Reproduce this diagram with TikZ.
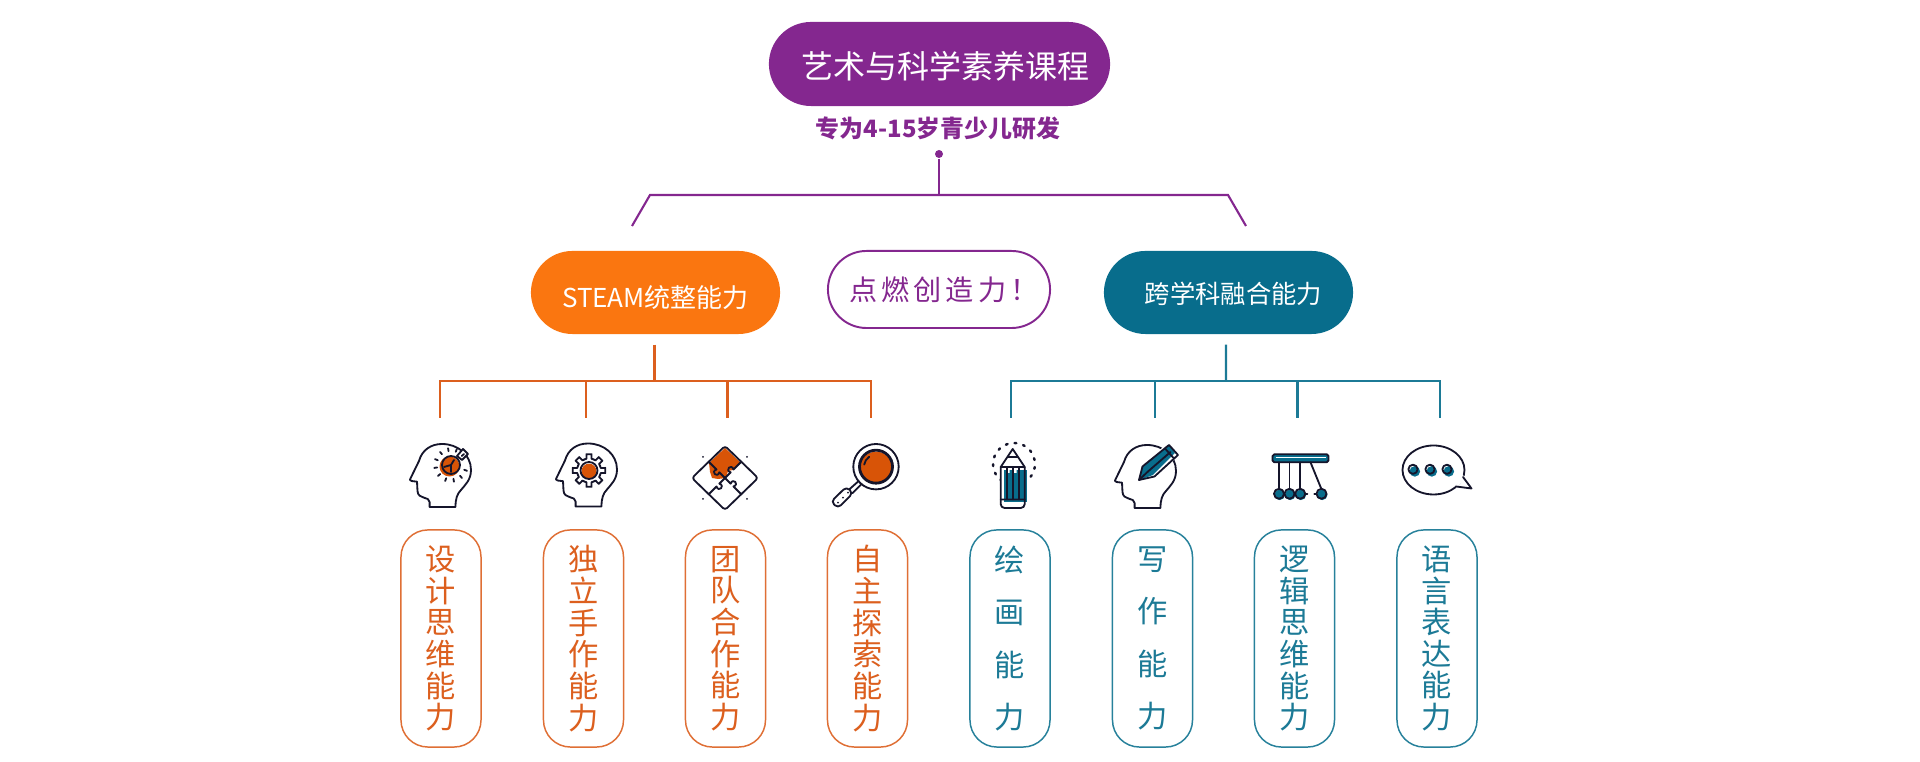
\documentclass[tikz,border=0pt]{standalone}
\usepackage{fontspec}
\usepackage{xcolor}
\usepackage{tikz}
\usetikzlibrary{positioning,calc}
\newfontfamily\cjk{Noto Sans CJK SC}
\newfontfamily\cjkwide[LetterSpace=14]{Noto Sans CJK SC}
\definecolor{ArtPurple}{HTML}{84278F}
\definecolor{ArtOrange}{HTML}{FA7610}
\definecolor{ArtTeal}{HTML}{086D8C}
\definecolor{ArtRust}{HTML}{DC5F1E}
\definecolor{ArtSea}{HTML}{1C7A96}
\definecolor{ArtInk}{HTML}{15152B}
\definecolor{ArtFlame}{HTML}{D85407}
\newcommand{\drawhead}{\draw[iconline,fill=white] (45.5,63) -- (19.6,63) -- (19.6,58) .. controls (19.6,52) and (8,56) .. (7.5,47) -- (7,37.7) -- (1.5,37) .. controls (-0.5,36) .. (0.7,34) -- (9,17) .. controls (12,6) and (21,0) .. (32,0) .. controls (48,0) and (61,11) .. (61,26) .. controls (61,36) and (55,41) .. (51,46) .. controls (47,50) and (45.5,55) .. (45.5,63);}
\tikzset{
  pillbox/.style={rounded corners=0.415cm, inner sep=0pt, minimum height=0.83cm, text=white},
  cardbox/.style={draw, line width=0.42pt, rounded corners=0.27cm, fill=white, inner sep=0pt, minimum width=0.8cm, minimum height=2.17cm, align=center},
  rustcard/.style={cardbox, draw=ArtRust!90, text=ArtRust, font=\cjk\fontsize{8.6}{9}\selectfont},
  seacard/.style={cardbox, draw=ArtSea!95, text=ArtSea, font=\cjk\fontsize{8.6}{9}\selectfont},
  seawide/.style={seacard, font=\cjk\fontsize{8.6}{14.85}\selectfont},
  purpleline/.style={draw=ArtPurple, line width=0.6pt},
  rustline/.style={draw=ArtRust, line width=0.6pt},
  sealine/.style={draw=ArtSea, line width=0.6pt},
  iconline/.style={draw=ArtInk, line width=0.52pt, line join=round, line cap=round},
  pics/bulbhead/.style={code={
    \drawhead
    \fill[ArtFlame] (39.5,22.5) circle[radius=10];
    \draw[iconline] (41,21) circle[radius=9];
    \draw[iconline,fill=white] (47,12) -- (53,5) -- (58,10) -- (52,16) -- cycle;
    \draw[iconline] (34,23) -- (41,21) -- (44,16) (41,21) -- (41,28);
    \foreach \a in {20,50,...,340} {\draw[iconline] ($(41,21)+(\a:14)$) -- ($(41,21)+(\a:17)$);}
  }},
  pics/gearhead/.style={code={
    \drawhead
    \begin{scope}[shift={(33,27)}]
      \foreach \a in {0,45,...,315} {\draw[iconline] (\a-22.5:12) -- (\a-12:12) -- (\a-9:16.5) -- (\a+9:16.5) -- (\a+12:12) -- (\a+22.5:12);}
      \fill[ArtFlame] (0,0.7) circle[radius=7.5];
      \draw[iconline] (0,0) circle[radius=8.5];
    \end{scope}
  }},
  pics/puzzlecard/.style={code={
    \fill[ArtFlame] (0,-30) -- (16,-15) -- (8,-8) -- (3,-7) -- (1,0) -- (-7,1) -- (-13,0) -- (-15,-6) -- (-16,-15) -- cycle;
    \draw[iconline] (0,-32) [rounded corners=0.8pt] -- (33,0) -- (0,32) -- (-33,0) -- cycle;
    \foreach \a in {45,135,225,315} {\draw[iconline,rotate=\a] (0,0) -- (8,0) .. controls (5,-6) and (15,-6) .. (12,0) -- (23,0);}
    \foreach \x/\y in {-22/-21,22/-21,-22/21,22/21} {\fill[ArtInk] (\x,\y) circle[radius=1];}
  }},
  pics/lensglass/.style={code={
    \draw[iconline] (0,0) circle[radius=22.7];
    \fill[ArtFlame] (0,1) circle[radius=16];
    \draw[iconline,line width=0.8pt] (0,0) circle[radius=16.5];
    \draw[iconline] (190:12) arc[start angle=190, end angle=235, radius=12];
    \draw[iconline] (-17.5,14.5) -- (-26.5,22.5) (-14.5,17.5) -- (-23.5,26.5);
    \draw[iconline,fill=white,rounded corners=1.2pt] (-29.5,20) -- (-23,26.5) -- (-38,41.5) -- (-45,35) -- cycle;
    \foreach \x/\y in {-28/26,-33/31,-38/36} {\fill[ArtInk] (\x,\y) circle[radius=1];}
  }},
  pics/pencilstand/.style={code={
    \draw[iconline,dotted,line width=0.7pt] (-11,15) arc[start angle=126, end angle=414, radius=21, delta angle=-288];
    \fill[white] (0,-18) -- (-13,2) -- (-13,20) -- (13,20) -- (13,2) -- cycle;
    \fill[ArtTeal] (-9,4) rectangle (14,36);
    \fill[white] (-6,2) rectangle (-3,7) (1,2) rectangle (4,7);
    \draw[iconline,rounded corners=1.1pt] (-12,1) -- (-12,42) -- (12,42) -- (12,1);
    \draw[iconline] (-12,1) -- (0,-17) -- (12,1) -- cycle (-4.5,-9) -- (4.5,-9) (-12,33.5) -- (12,33.5);
    \draw[iconline] (-6,1) -- (-6,33.5) (0.5,1) -- (0.5,33.5) (6.5,1) -- (6.5,33.5);
  }},
  pics/pencilhead/.style={code={
    \drawhead
    \fill[white] (26,24) -- (52,-2) -- (64,10) -- (40,33) -- cycle;
    \fill[ArtTeal] (24,35) -- (28,21) -- (54,0) -- (60,8) -- (38,30) -- cycle;
    \draw[iconline] (24,35) -- (27.5,21.5) -- (54,0) -- (63,10) -- (39.5,31.5) -- cycle;
    \draw[iconline] (50,3.5) -- (59,13.5) (33,26.5) -- (55.5,7) (24,35) -- (33,26.5);
  }},
  pics/cradlebar/.style={code={
    \draw[iconline,fill=ArtTeal,rounded corners=0.5pt] (0,0) rectangle (56,8);
    \draw[white,line width=0.3pt] (3,3.5) -- (53,3.5);
    \foreach \x in {6.5,17,27.7} {
      \draw[iconline] (\x,8) -- (\x,35);
      \fill[ArtTeal] (\x+0.7,40.5) circle[radius=5.3];
      \draw[iconline] (\x,39.5) circle[radius=5];
    }
    \draw[iconline] (38,8) -- (49,35);
    \fill[ArtTeal] (49.7,40.5) circle[radius=5.3];
    \draw[iconline] (49,39.5) circle[radius=5];
    \draw[iconline,dotted] (33,39.5) -- (44,39.5);
  }},
  pics/speechcloud/.style={code={
    \draw[iconline] (0,0) ellipse[x radius=31, y radius=24.5];
    \fill[white] (29,5) -- (22,16) -- (23,18) -- (33,8) -- cycle;
    \draw[iconline] (29.5,7) -- (38,18.5) -- (22.5,16.5);
    \foreach \x in {-20.5,-3.5,13.5} {
      \fill[ArtTeal] (\x+1.8,1.4) circle[radius=5.3];
      \draw[iconline] (\x,-0.7) circle[radius=4.6];
    }
  }}
}
\begin{document}
\begin{tikzpicture}[x=0.01cm, y=-0.01cm, every node/.style={font=\cjk}]
\useasboundingbox (0,0) rectangle (1920,762);
\node[pillbox,fill=ArtPurple,minimum width=3.41cm,minimum height=0.84cm,rounded corners=0.42cm,text height=0.37cm,text depth=0.08cm,font=\cjk\fontsize{9.1}{10}\selectfont] (course) at (939.5,64) {\hspace*{0.12cm}艺术与科学素养课程};
\node[text=ArtPurple,font=\cjk\bfseries\fontsize{6.8}{8}\selectfont] (subtitle) at (938,128) {专为4-15岁青少儿研发};
\node[circle,fill=ArtPurple,inner sep=0pt,minimum size=0.08cm] (topdot) at (939,154) {};
\coordinate (topbar) at (939,195);
\coordinate (legleft) at (632,226);
\coordinate (legright) at (1246,226);
\draw[purpleline] (topdot) -- (topbar);
\draw[purpleline] (legleft) -- (650,195) -- (1228,195) -- (legright);
\node[pillbox,fill=ArtOrange,minimum width=2.49cm,text height=0.35cm,text depth=0.05cm,font=\cjk\fontsize{7.4}{9}\selectfont] (steam) at (655.5,292.5) {STEAM统整能力};
\node[pillbox,draw=ArtPurple,line width=0.55pt,minimum width=2.22cm,minimum height=0.77cm,rounded corners=0.385cm,text=ArtPurple,font=\cjkwide\fontsize{8}{9}\selectfont] (spark) at (939,289.5) {\hspace*{0.1cm}点燃创造力！};
\node[pillbox,fill=ArtTeal,minimum width=2.49cm,text height=0.28cm,text depth=0.058cm,font=\cjk\fontsize{7.2}{9}\selectfont] (cross) at (1228.5,292.5) {\hspace*{0.1cm}跨学科融合能力};
\coordinate (steambar) at (654.5,381);
\coordinate (crossbar) at (1226,381);
\coordinate (tipa) at (440,418);
\coordinate (tipb) at (586,418);
\coordinate (tipc) at (727.5,418);
\coordinate (tipd) at (871,418);
\coordinate (tipe) at (1011,418);
\coordinate (tipf) at (1155,418);
\coordinate (tipg) at (1297.5,418);
\coordinate (tiph) at (1440,418);
\draw[rustline] ([xshift=-0.01cm,yshift=-0.1cm]steam.south) -- (steambar);
\draw[sealine] ([xshift=-0.025cm,yshift=-0.1cm]cross.south) -- (crossbar);
\foreach \n in {a,b,c,d} \draw[rustline] (steambar) -| (tip\n);
\foreach \n in {e,f,g,h} \draw[sealine] (crossbar) -| (tip\n);
\pic (bulb) at (410,444) {bulbhead};
\pic (gear) at (556,443.5) {gearhead};
\pic (puzzle) at (725,478) {puzzlecard};
\pic (lens) at (876,466.7) {lensglass};
\pic (pencil) at (1012.7,466) {pencilstand};
\pic (writer) at (1115,445) {pencilhead};
\pic (cradle) at (1272.5,454.3) {cradlebar};
\pic (speech) at (1433.5,470) {speechcloud};
\node[rustcard] (design) at (441,638.5) {设\\计\\思\\维\\能\\力};
\node[rustcard] (alone) at (583.5,638.5) {独\\立\\手\\作\\能\\力};
\node[rustcard] (team) at (725.5,638.5) {团\\队\\合\\作\\能\\力};
\node[rustcard] (explore) at (867.5,638.5) {自\\主\\探\\索\\能\\力};
\node[seawide] (drawing) at (1010,638.5) {绘\\画\\能\\力};
\node[seawide] (writing) at (1152.5,638.5) {写\\作\\能\\力};
\node[seacard] (logic) at (1294.5,638.5) {逻\\辑\\思\\维\\能\\力};
\node[seacard] (speak) at (1437,638.5) {语\\言\\表\\达\\能\\力};
\end{tikzpicture}
\end{document}
